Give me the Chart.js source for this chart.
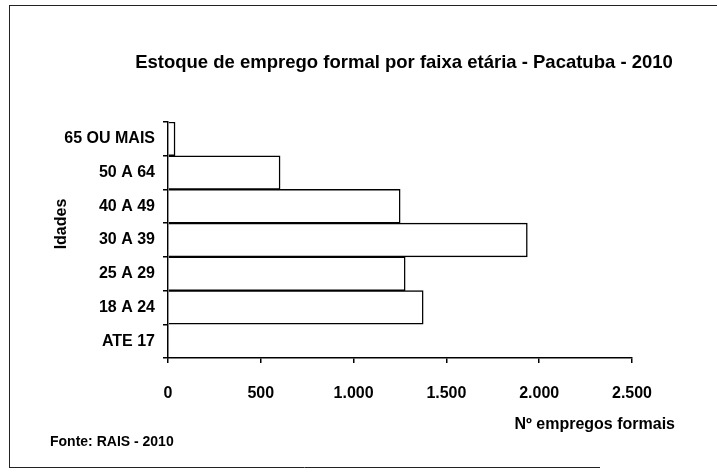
<!DOCTYPE html>
<html><head><meta charset="utf-8">
<script src="https://cdn.jsdelivr.net/npm/chart.js@4/dist/chart.umd.min.js"></script>
<style>html,body{margin:0;padding:0;background:#fff}#wrap{width:717px;height:476px;position:relative}</style>
</head><body><div id="wrap"><canvas id="c" width="717" height="476"></canvas></div>
<script>
const categories = ['65 OU MAIS', '50 A 64', '40 A 49', '30 A 39', '25 A 29', '18 A 24', 'ATE 17'];
const empregos = [38, 604, 1251, 1936, 1278, 1375, 0];
const tickValues = [0, 500, 1000, 1500, 2000, 2500];
const tickLabels = ['0', '500', '1.000', '1.500', '2.000', '2.500'];
const chartTitle = 'Estoque de emprego formal por faixa etária - Pacatuba - 2010';
const yTitle = 'Idades';
const xTitle = 'Nº empregos formais';
const sourceNote = 'Fonte: RAIS - 2010';

const FAM = '"Liberation Sans", Arial, sans-serif';

const framePlugin = {
  id: 'frame',
  afterDraw(chart) {
    const ctx = chart.ctx;
    ctx.save();
    ctx.strokeStyle = '#222';
    ctx.lineWidth = 1;
    ctx.beginPath();
    ctx.moveTo(9, 5.5); ctx.lineTo(717, 5.5);
    ctx.moveTo(9.5, 5); ctx.lineTo(9.5, 468);
    ctx.moveTo(9, 467.5); ctx.lineTo(600, 467.5);
    ctx.stroke();
    ctx.fillStyle = '#000';
    ctx.textBaseline = 'middle';
    // chart title
    ctx.font = 'bold 18.5px ' + FAM;
    ctx.textAlign = 'center';
    ctx.fillText(chartTitle, 404, 63);
    // y axis title
    ctx.save();
    ctx.translate(62, 224);
    ctx.rotate(-Math.PI / 2);
    ctx.textAlign = 'center';
    ctx.font = 'bold 16px ' + FAM;
    ctx.fillText(yTitle, 0, 0);
    ctx.restore();
    // x axis title
    ctx.font = 'bold 16px ' + FAM;
    ctx.textAlign = 'right';
    ctx.fillText(xTitle, 675, 425);
    // source
    ctx.font = 'bold 14px ' + FAM;
    ctx.textAlign = 'left';
    ctx.fillText(sourceNote, 50, 442);
    ctx.restore();
  }
};

new Chart(document.getElementById('c'), {
  type: 'bar',
  data: {
    labels: categories,
    datasets: [{
      data: empregos,
      backgroundColor: '#ffffff',
      borderColor: '#000000',
      borderWidth: 1.5,
      barPercentage: 1,
      categoryPercentage: 1
    }]
  },
  options: {
    indexAxis: 'y',
    responsive: false,
    animation: false,
    layout: { padding: { left: 0, right: 85, top: 122, bottom: 0 } },
    plugins: {
      legend: { display: false },
      tooltip: { enabled: false },
      title: { display: false }
    },
    scales: {
      x: {
        type: 'linear',
        position: 'bottom',
        min: 0,
        max: 2500,
        afterBuildTicks(s) { s.ticks = tickValues.map(v => ({ value: v })); },
        ticks: {
          color: '#000',
          font: { family: FAM, size: 16, weight: 'bold' },
          padding: 21,
          callback: (v) => { const i = tickValues.indexOf(v); return i >= 0 ? tickLabels[i] : ''; }
        },
        grid: { display: true, drawOnChartArea: false, drawTicks: true, tickLength: 5, color: '#000', lineWidth: 1.5 },
        border: { display: true, color: '#000', width: 1.5 },
        afterFit(s) { s.height = 118; }
      },
      y: {
        ticks: { color: '#000', font: { family: FAM, size: 16, weight: 'bold' }, padding: 8, autoSkip: false },
        grid: { display: true, offset: true, drawOnChartArea: false, drawTicks: true, tickLength: 5, color: '#000', lineWidth: 1.5 },
        border: { display: true, color: '#000', width: 1.5 },
        afterFit(s) { s.width = 168; }
      }
    }
  },
  plugins: [framePlugin]
});
</script>
</body></html>
